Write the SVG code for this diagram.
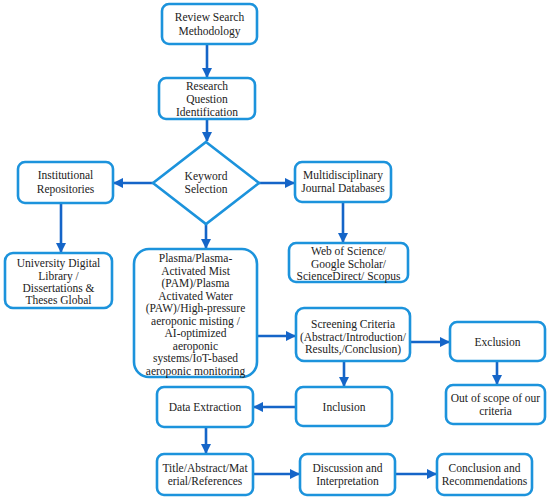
<svg xmlns="http://www.w3.org/2000/svg" width="550" height="499" viewBox="0 0 550 499">
<defs>
<marker id="ah" viewBox="0 0 10 10" refX="9" refY="5" markerWidth="4" markerHeight="4" orient="auto" markerUnits="strokeWidth">
<path d="M0,0 L10,5 L0,10 z" fill="#1565c8"/>
</marker>
<style>
.b{fill:#fff;stroke:#1c93dc;stroke-width:2.6}
.t{font-size:11.5px;fill:#222;text-anchor:middle}
.c{stroke:#1565c8;stroke-width:2.6;fill:none;marker-end:url(#ah)}
</style>
</defs>
<rect width="550" height="499" fill="#fff"/>
<g id="connectors">
<line class="c" x1="207" y1="44" x2="207" y2="77"/>
<line class="c" x1="207" y1="119" x2="207" y2="141"/>
<line class="c" x1="153" y1="183" x2="114" y2="183"/>
<line class="c" x1="259" y1="183" x2="294" y2="183"/>
<line class="c" x1="61" y1="203" x2="61" y2="252"/>
<line class="c" x1="343" y1="202" x2="343" y2="242"/>
<line class="c" x1="206" y1="224" x2="206" y2="248"/>
<line class="c" x1="257" y1="336" x2="295" y2="336"/>
<line class="c" x1="410" y1="342" x2="449" y2="342"/>
<line class="c" x1="497" y1="361" x2="497" y2="384"/>
<line class="c" x1="344" y1="361" x2="344" y2="386"/>
<line class="c" x1="296" y1="407" x2="254" y2="407"/>
<line class="c" x1="206" y1="427" x2="206" y2="453"/>
<line class="c" x1="253" y1="474" x2="299" y2="474"/>
<line class="c" x1="395" y1="474" x2="436" y2="474"/>
</g>
<g font-family="'Liberation Serif', 'Times New Roman', 'DejaVu Serif', serif">
<g id="review">
<rect class="b" x="162" y="4" width="95" height="40" rx="7"/>
<text class="t" x="209.5" y="21">Review Search</text>
<text class="t" x="209.5" y="35">Methodology</text>
</g>
<g id="research">
<rect class="b" x="159" y="78" width="96" height="41" rx="7"/>
<text class="t" x="207" y="90">Research</text>
<text class="t" x="207" y="103">Question</text>
<text class="t" x="207" y="116">Identification</text>
</g>
<g id="keyword">
<polygon class="b" points="206,142 259,183 206,224 153,183"/>
<text class="t" x="206" y="180">Keyword</text>
<text class="t" x="206" y="193">Selection</text>
</g>
<g id="institutional">
<rect class="b" x="18" y="162" width="95" height="41" rx="7"/>
<text class="t" x="65.5" y="179">Institutional</text>
<text class="t" x="65.5" y="193">Repositories</text>
</g>
<g id="multidisciplinary">
<rect class="b" x="295" y="162" width="96" height="40" rx="7"/>
<text class="t" x="343" y="179">Multidisciplinary</text>
<text class="t" x="343" y="192">Journal Databases</text>
</g>
<g id="university">
<rect class="b" x="5" y="253" width="107" height="55" rx="8"/>
<text class="t" x="58.5" y="267">University Digital</text>
<text class="t" x="58.5" y="280">Library /</text>
<text class="t" x="58.5" y="292">Dissertations &amp;</text>
<text class="t" x="58.5" y="304">Theses Global</text>
</g>
<g id="web">
<rect class="b" x="289" y="243" width="119" height="39" rx="7"/>
<text class="t" x="348.5" y="255">Web of Science/</text>
<text class="t" x="348.5" y="267.5">Google Scholar/</text>
<text class="t" x="348.5" y="280">ScienceDirect/ Scopus</text>
</g>
<g id="plasma">
<rect class="b" x="134" y="249" width="123" height="128" rx="15"/>
<text class="t" x="195.5" y="262">Plasma/Plasma-</text>
<text class="t" x="195.5" y="274.5">Activated Mist</text>
<text class="t" x="195.5" y="287">(PAM)/Plasma</text>
<text class="t" x="195.5" y="299.5">Activated Water</text>
<text class="t" x="195.5" y="312">(PAW)/High-pressure</text>
<text class="t" x="195.5" y="324.5">aeroponic misting /</text>
<text class="t" x="195.5" y="337">AI-optimized</text>
<text class="t" x="195.5" y="349.5">aeroponic</text>
<text class="t" x="195.5" y="362">systems/IoT-based</text>
<text class="t" x="195.5" y="374.5">aeroponic monitoring</text>
</g>
<g id="screening">
<rect class="b" x="296" y="308" width="114" height="53" rx="8"/>
<text class="t" x="353" y="328">Screening Criteria</text>
<text class="t" x="353" y="341">(Abstract/Introduction/</text>
<text class="t" x="353" y="353">Results,/Conclusion)</text>
</g>
<g id="exclusion">
<rect class="b" x="450" y="322" width="95" height="39" rx="7"/>
<text class="t" x="497.5" y="346">Exclusion</text>
</g>
<g id="outofscope">
<rect class="b" x="446" y="385" width="99" height="39" rx="7"/>
<text class="t" x="495.5" y="402">Out of scope of our</text>
<text class="t" x="495.5" y="415">criteria</text>
</g>
<g id="inclusion">
<rect class="b" x="296" y="387" width="96" height="39" rx="7"/>
<text class="t" x="344" y="411">Inclusion</text>
</g>
<g id="dataextraction">
<rect class="b" x="157" y="387" width="96" height="40" rx="7"/>
<text class="t" x="205" y="411">Data Extraction</text>
</g>
<g id="title">
<rect class="b" x="157" y="454" width="96" height="41" rx="7"/>
<text class="t" x="205" y="472">Title/Abstract/Mat</text>
<text class="t" x="205" y="485">erial/References</text>
</g>
<g id="discussion">
<rect class="b" x="300" y="454" width="95" height="41" rx="7"/>
<text class="t" x="347.5" y="472">Discussion and</text>
<text class="t" x="347.5" y="485">Interpretation</text>
</g>
<g id="conclusion">
<rect class="b" x="437" y="454" width="95" height="41" rx="7"/>
<text class="t" x="484.5" y="472">Conclusion and</text>
<text class="t" x="484.5" y="485">Recommendations</text>
</g>
</g>
</svg>
